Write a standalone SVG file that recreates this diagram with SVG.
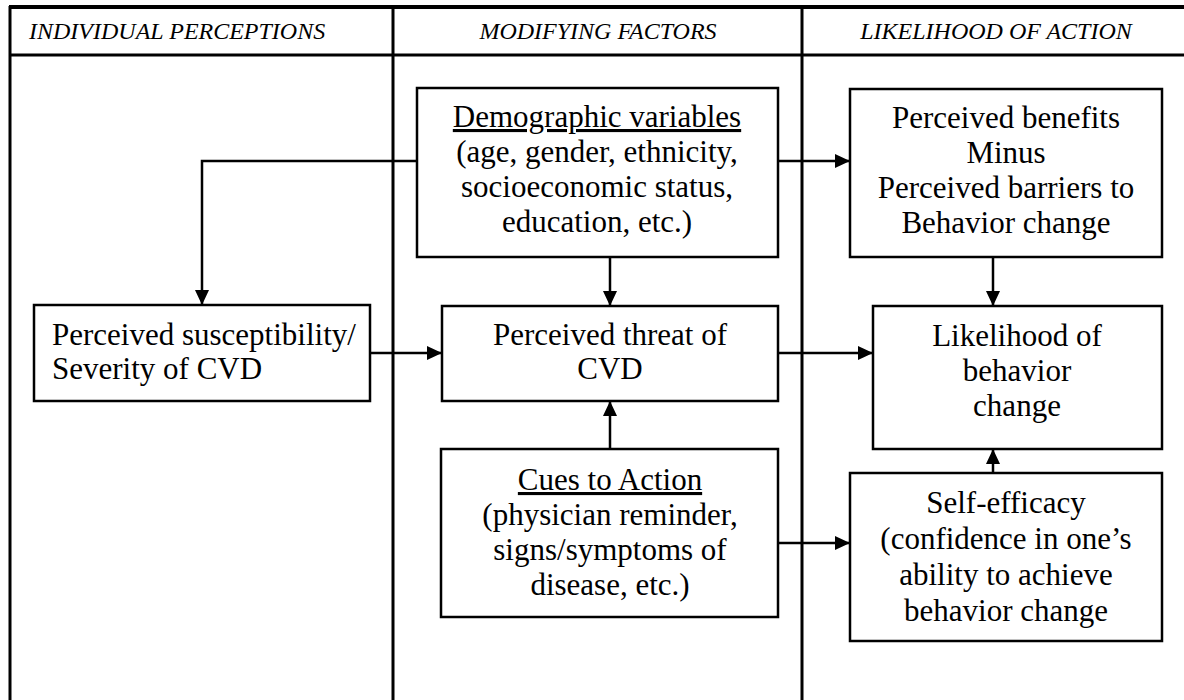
<svg xmlns="http://www.w3.org/2000/svg" width="1184" height="700" viewBox="0 0 1184 700">
<style>
.frame{stroke:#000;stroke-width:3;fill:none}
.box{fill:#fff;stroke:#000;stroke-width:2.5}
.hd{font-family:"Liberation Serif","Times New Roman",serif;font-style:italic;font-size:24px;fill:#000}
.t{font-family:"Liberation Serif","Times New Roman",serif;font-size:31px;fill:#000;text-anchor:middle}
.tl{font-family:"Liberation Serif","Times New Roman",serif;font-size:31px;fill:#000}
.u{text-decoration:underline}
.c{stroke:#000;stroke-width:2.5;fill:none;marker-end:url(#ah)}
</style>
<defs>
<marker id="ah" markerUnits="userSpaceOnUse" markerWidth="16" markerHeight="16" refX="15" refY="7" orient="auto">
<path d="M0,0 L15,7 L0,14 Z" fill="#000"/>
</marker>
</defs>
<rect width="1184" height="700" fill="#fff"/>
<g id="frame">
<line class="frame" x1="9" y1="7" x2="1184" y2="7" style="stroke-width:4"/>
<line class="frame" x1="10" y1="6" x2="10" y2="700"/>
<line class="frame" x1="10" y1="55" x2="1184" y2="55"/>
<line class="frame" x1="393" y1="7" x2="393" y2="700"/>
<line class="frame" x1="802" y1="7" x2="802" y2="700"/>
<text class="hd" x="29" y="39">INDIVIDUAL PERCEPTIONS</text>
<text class="hd" x="598" y="39" text-anchor="middle">MODIFYING FACTORS</text>
<text class="hd" x="996" y="39" text-anchor="middle">LIKELIHOOD OF ACTION</text>
</g>
<g id="connectors">
<path class="c" d="M417,161 H202 V305"/>
<path class="c" d="M778,161 H850"/>
<path class="c" d="M610,257 V306"/>
<path class="c" d="M370,353 H442"/>
<path class="c" d="M778,353 H873"/>
<path class="c" d="M610,449 V401"/>
<path class="c" d="M993,257 V306"/>
<path class="c" d="M993,473 V449"/>
<path class="c" d="M778,543 H850"/>
</g>
<g id="demographic">
<rect class="box" x="417" y="88" width="361" height="169"/>
<text class="t" x="597" y="127"><tspan class="u">Demographic variables</tspan></text>
<text class="t" x="597" y="162">(age, gender, ethnicity,</text>
<text class="t" x="597" y="197">socioeconomic status,</text>
<text class="t" x="597" y="232">education, etc.)</text>
</g>
<g id="susceptibility">
<rect class="box" x="34" y="305" width="336" height="96"/>
<text class="tl" x="52" y="345">Perceived susceptibility/</text>
<text class="tl" x="52" y="379">Severity of CVD</text>
</g>
<g id="threat">
<rect class="box" x="442" y="306" width="336" height="95"/>
<text class="t" x="610" y="345">Perceived threat of</text>
<text class="t" x="610" y="379">CVD</text>
</g>
<g id="cues">
<rect class="box" x="441" y="449" width="337" height="168"/>
<text class="t" x="610" y="490"><tspan class="u">Cues to Action</tspan></text>
<text class="t" x="610" y="525">(physician reminder,</text>
<text class="t" x="610" y="560">signs/symptoms of</text>
<text class="t" x="610" y="595">disease, etc.)</text>
</g>
<g id="benefits">
<rect class="box" x="850" y="89" width="312" height="168"/>
<text class="t" x="1006" y="128">Perceived benefits</text>
<text class="t" x="1006" y="163">Minus</text>
<text class="t" x="1006" y="198">Perceived barriers to</text>
<text class="t" x="1006" y="233">Behavior change</text>
</g>
<g id="likelihood">
<rect class="box" x="873" y="306" width="289" height="143"/>
<text class="t" x="1017" y="346">Likelihood of</text>
<text class="t" x="1017" y="381">behavior</text>
<text class="t" x="1017" y="416">change</text>
</g>
<g id="selfefficacy">
<rect class="box" x="850" y="473" width="312" height="168"/>
<text class="t" x="1006" y="513">Self-efficacy</text>
<text class="t" x="1006" y="549">(confidence in one’s</text>
<text class="t" x="1006" y="585">ability to achieve</text>
<text class="t" x="1006" y="621">behavior change</text>
</g>
</svg>
